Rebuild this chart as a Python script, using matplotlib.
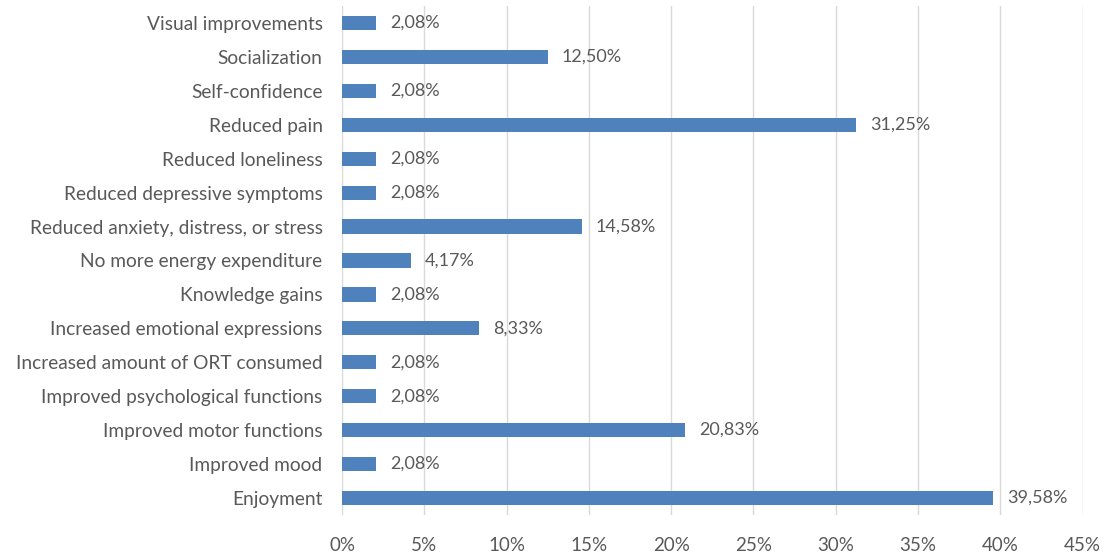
import matplotlib
matplotlib.use("Agg")

import matplotlib.pyplot as plt
from matplotlib.ticker import FuncFormatter, MultipleLocator

categories = [
    "Enjoyment",
    "Improved mood",
    "Improved motor functions",
    "Improved psychological functions",
    "Increased amount of ORT consumed",
    "Increased emotional expressions",
    "Knowledge gains",
    "No more energy expenditure",
    "Reduced anxiety, distress, or stress",
    "Reduced depressive symptoms",
    "Reduced loneliness",
    "Reduced pain",
    "Self-confidence",
    "Socialization",
    "Visual improvements",
]
percentages = [39.58, 2.08, 20.83, 2.08, 2.08, 8.33, 2.08, 4.17,
               14.58, 2.08, 2.08, 31.25, 2.08, 12.50, 2.08]

text_color = "#595959"
bar_color = "#4F81BD"

plt.rcParams["font.family"] = ["Lato", "DejaVu Sans"]

fig = plt.figure(figsize=(11.07, 5.56), dpi=100)
ax = fig.add_axes([0.309, 0.074, 0.669, 0.915])

y = range(len(categories))
ax.barh(y, percentages, height=0.42, color=bar_color, zorder=3)

# value labels to the right of each bar, decimal comma
for yi, v in zip(y, percentages):
    ax.text(v + 0.85, yi, f"{v:.2f}%".replace(".", ","), va="center",
            ha="left", fontsize=13, color=text_color)

ax.set_yticks(list(y))
ax.set_yticklabels(categories, fontsize=13.8, color=text_color)
ax.set_ylim(-0.5, len(categories) - 0.5)
ax.set_xlim(0, 45)
ax.xaxis.set_major_locator(MultipleLocator(5))
ax.xaxis.set_major_formatter(FuncFormatter(lambda v, _: f"{v:.0f}%"))
ax.tick_params(axis="x", labelsize=13.5, labelcolor=text_color, length=0, pad=16)
ax.tick_params(axis="y", length=0, pad=14)

ax.grid(axis="x", color="#D9D9D9", linewidth=1, zorder=0)
for s in ax.spines.values():
    s.set_visible(False)

fig.savefig("out.png", dpi=100)
plt.close(fig)
